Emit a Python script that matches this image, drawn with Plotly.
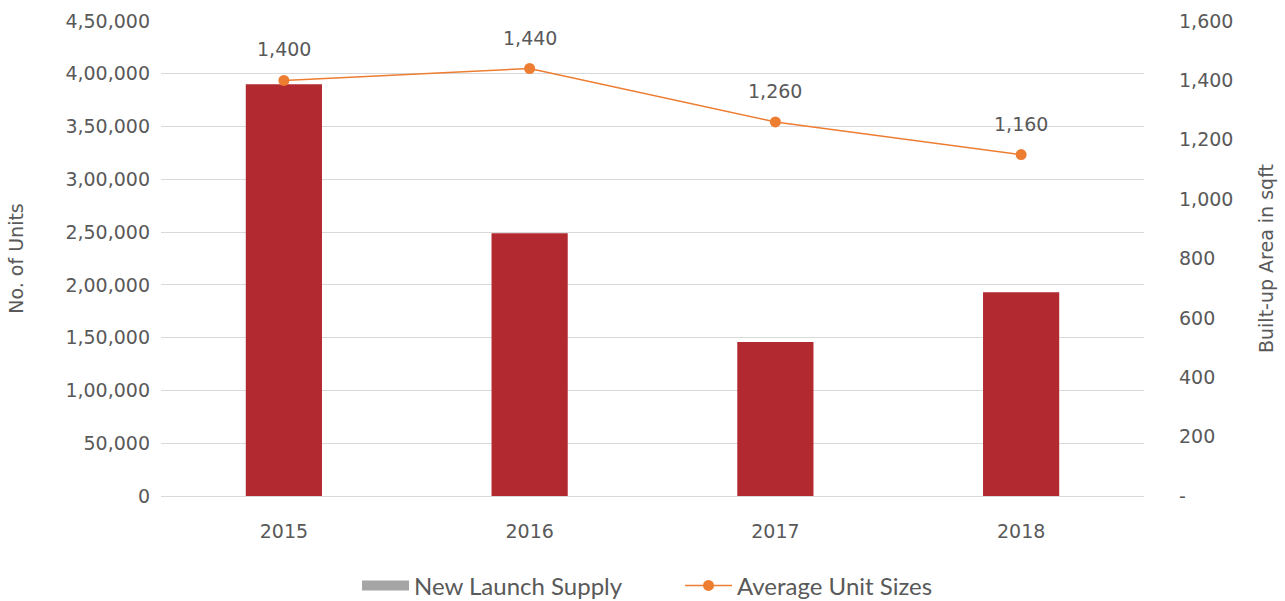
import plotly.graph_objects as go

years = [2015, 2016, 2017, 2018]
supply = [390000, 249000, 146000, 193000]
unit_sizes = [1400, 1440, 1260, 1150]
unit_labels = ["1,400", "1,440", "1,260", "1,160"]

left_ticks = [0, 50000, 100000, 150000, 200000, 250000, 300000, 350000, 400000, 450000]
left_ticktext = ["0", "50,000", "1,00,000", "1,50,000", "2,00,000", "2,50,000",
                 "3,00,000", "3,50,000", "4,00,000", "4,50,000"]
right_ticks = [0, 200, 400, 600, 800, 1000, 1200, 1400, 1600]
right_ticktext = ["-", "200", "400", "600", "800", "1,000", "1,200", "1,400", "1,600"]

BAR = "#B22A30"
LINE = "#ED7D31"
GREY = "#A5A5A5"
TXT = "#595959"
FONT = "DejaVu Sans"
TICK = 19

fig = go.Figure()
fig.add_trace(go.Bar(x=years, y=supply, marker=dict(color=BAR, line=dict(width=0)), width=0.31,
                     showlegend=False, name="New Launch Supply"))
# legend-only swatch (grey block as in the reference legend)
fig.add_trace(go.Scatter(x=[None], y=[None], mode="lines", name="New Launch Supply",
                         line=dict(color=GREY, width=10), showlegend=True))
fig.add_trace(go.Scatter(x=years, y=unit_sizes, mode="lines+markers", name="Average Unit Sizes",
                         line=dict(color=LINE, width=1.5), marker=dict(size=11, color=LINE),
                         yaxis="y2"))

for x, y, t in zip(years, unit_sizes, unit_labels):
    fig.add_annotation(x=x, y=y, xref="x", yref="y2", text=t, showarrow=False, yshift=31,
                       font=dict(family=FONT, size=TICK, color=TXT))

fig.update_layout(
    width=1285, height=601,
    margin=dict(l=161, r=141, t=21, b=105, autoexpand=False),
    plot_bgcolor="white", paper_bgcolor="white",
    font=dict(family=FONT, color=TXT, size=TICK),
    barmode="overlay",
    xaxis=dict(range=[years[0] - 0.5, years[-1] + 0.5], tickvals=years,
               showgrid=False, showline=False, ticks="", zeroline=False,
               ticklabelstandoff=22,
               tickfont=dict(size=TICK, color=TXT)),
    yaxis=dict(range=[0, 450000], tickvals=left_ticks, ticktext=left_ticktext,
               showgrid=True, gridcolor="#D9D9D9", gridwidth=1, zeroline=True,
               zerolinecolor="#D9D9D9", zerolinewidth=1, showline=False,
               ticks="", ticklabelstandoff=10,
               title=dict(text="No. of Units", font=dict(size=TICK, color=TXT), standoff=36),
               tickfont=dict(size=TICK, color=TXT)),
    yaxis2=dict(range=[0, 1600], tickvals=right_ticks, ticktext=right_ticktext,
                overlaying="y", side="right", showgrid=False, zeroline=False, showline=False,
                ticks="", ticklabelstandoff=34,
                title=dict(text="Built-up Area in sqft", font=dict(size=TICK, color=TXT), standoff=27),
                tickfont=dict(size=TICK, color=TXT)),
    legend=dict(orientation="h", x=0.528, xanchor="center", y=-0.189, yanchor="middle",
                font=dict(size=24, color=TXT, family="Lato"),
                itemwidth=47, entrywidth=261, entrywidthmode="pixels", traceorder="normal"),
)

fig.write_html("out.html")
